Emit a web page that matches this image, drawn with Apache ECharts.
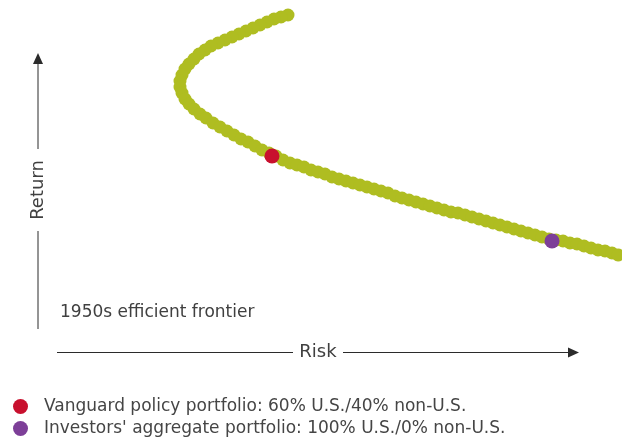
<!DOCTYPE html>
<html>
<head>
<meta charset="utf-8">
<script src="https://cdn.jsdelivr.net/npm/echarts@6/dist/echarts.min.js"></script>
<style>
  html, body { margin: 0; padding: 0; background: #ffffff; }
  #chart { width: 622px; height: 438px; }
</style>
</head>
<body>
<div id="chart"></div>
<script>
// ---- data (risk, return in arbitrary units) ----
const frontierPoints = [
  [6.25, 8.425], [6.075, 8.375], [5.9, 8.325], [5.725, 8.25], [5.55, 8.175],
  [5.375, 8.1], [5.2, 8.025], [5.025, 7.95], [4.85, 7.875], [4.675, 7.8],
  [4.5, 7.725], [4.325, 7.65], [4.175, 7.55], [4.025, 7.45], [3.9, 7.325],
  [3.775, 7.2], [3.675, 7.075], [3.6, 6.925], [3.55, 6.775], [3.55, 6.625],
  [3.6, 6.475], [3.675, 6.325], [3.775, 6.2], [3.9, 6.075], [4.05, 5.95],
  [4.2, 5.85], [4.375, 5.725], [4.55, 5.625], [4.725, 5.525], [4.9, 5.425],
  [5.075, 5.325], [5.25, 5.25], [5.425, 5.15], [5.6, 5.05], [5.775, 4.975],
  [5.95, 4.9], [6.125, 4.8], [6.3, 4.725], [6.475, 4.675], [6.65, 4.625],
  [6.825, 4.55], [7.0, 4.5], [7.175, 4.45], [7.35, 4.375], [7.525, 4.325],
  [7.7, 4.275], [7.875, 4.225], [8.05, 4.175], [8.225, 4.125], [8.4, 4.075],
  [8.575, 4.025], [8.75, 3.975], [8.925, 3.9], [9.1, 3.85], [9.275, 3.8],
  [9.45, 3.75], [9.625, 3.7], [9.8, 3.65], [9.975, 3.6], [10.15, 3.55],
  [10.325, 3.5], [10.5, 3.475], [10.675, 3.425], [10.85, 3.375], [11.025, 3.325],
  [11.2, 3.275], [11.375, 3.225], [11.55, 3.175], [11.725, 3.125], [11.9, 3.075],
  [12.075, 3.025], [12.25, 2.975], [12.425, 2.925], [12.6, 2.875], [12.775, 2.825],
  [12.95, 2.8], [13.125, 2.775], [13.3, 2.725], [13.475, 2.7], [13.65, 2.65],
  [13.825, 2.6], [14.0, 2.55], [14.175, 2.525], [14.35, 2.475], [14.5, 2.425]
];
const policyPoint = [[5.85, 4.9]];
const aggregatePoint = [[12.85, 2.775]];
const legendNames = [
  'Vanguard policy portfolio: 60% U.S./40% non-U.S.',
  "Investors' aggregate portfolio: 100% U.S./0% non-U.S."
];
const frontierLabel = '1950s efficient frontier';
const xAxisLabel = 'Risk';
const yAxisLabel = 'Return';

// ---- styles ----
const FONT = '"DejaVu Sans", sans-serif';
const TEXT = '#404040';
const AXIS = '#2b2b2b';

const legendBase = {
  orient: 'vertical',
  left: 13,
  itemWidth: 15,
  itemHeight: 15,
  icon: 'circle',
  selectedMode: false,
  padding: 0,
  itemGap: 0,
  textStyle: { fontFamily: FONT, fontSize: 17, color: '#454545', padding: [0, 0, 0, 11] }
};

const chart = echarts.init(document.getElementById('chart'), null, { renderer: 'canvas' });

chart.setOption({
  backgroundColor: '#ffffff',
  animation: false,
  grid: { left: 38, top: 0, width: 584, height: 352 },
  xAxis: { type: 'value', min: 0, max: 14.6, show: false },
  yAxis: { type: 'value', min: 0, max: 8.8, show: false },
  legend: [
    Object.assign({}, legendBase, { top: 398, data: [legendNames[0]] }),
    Object.assign({}, legendBase, { top: 420, data: [legendNames[1]] })
  ],
  series: [
    {
      name: 'frontier',
      type: 'scatter',
      data: frontierPoints,
      symbolSize: 13,
      itemStyle: { color: '#afbd21', opacity: 1 },
      silent: true,
      z: 2
    },
    {
      name: legendNames[0],
      type: 'scatter',
      data: policyPoint,
      symbolSize: 15,
      itemStyle: { color: '#c8102e', opacity: 1 },
      z: 3
    },
    {
      name: legendNames[1],
      type: 'scatter',
      data: aggregatePoint,
      symbolSize: 15,
      itemStyle: { color: '#7d3f98', opacity: 1 },
      z: 3
    }
  ],
  graphic: [
    // vertical axis
    { type: 'line', shape: { x1: 38, y1: 62, x2: 38, y2: 149 }, style: { stroke: AXIS, lineWidth: 1 } },
    { type: 'line', shape: { x1: 38, y1: 231, x2: 38, y2: 329 }, style: { stroke: AXIS, lineWidth: 1 } },
    { type: 'polygon', shape: { points: [[38, 53], [33, 64], [43, 64]] }, style: { fill: AXIS } },
    {
      type: 'text', x: 38, y: 190, rotation: Math.PI / 2,
      style: { text: yAxisLabel, font: '18px ' + FONT, fill: TEXT, align: 'center', verticalAlign: 'middle' }
    },
    // horizontal axis
    { type: 'line', shape: { x1: 57, y1: 352.5, x2: 293, y2: 352.5 }, style: { stroke: AXIS, lineWidth: 1 } },
    { type: 'line', shape: { x1: 343, y1: 352.5, x2: 570, y2: 352.5 }, style: { stroke: AXIS, lineWidth: 1 } },
    { type: 'polygon', shape: { points: [[579, 352.5], [568, 347.5], [568, 357.5]] }, style: { fill: AXIS } },
    {
      type: 'text', x: 318, y: 352,
      style: { text: xAxisLabel, font: '18px ' + FONT, fill: TEXT, align: 'center', verticalAlign: 'middle' }
    },
    // frontier label
    {
      type: 'text', x: 60, y: 313,
      style: { text: frontierLabel, font: '17px ' + FONT, fill: TEXT, align: 'left', verticalAlign: 'middle' }
    }
  ]
});
</script>
</body>
</html>
